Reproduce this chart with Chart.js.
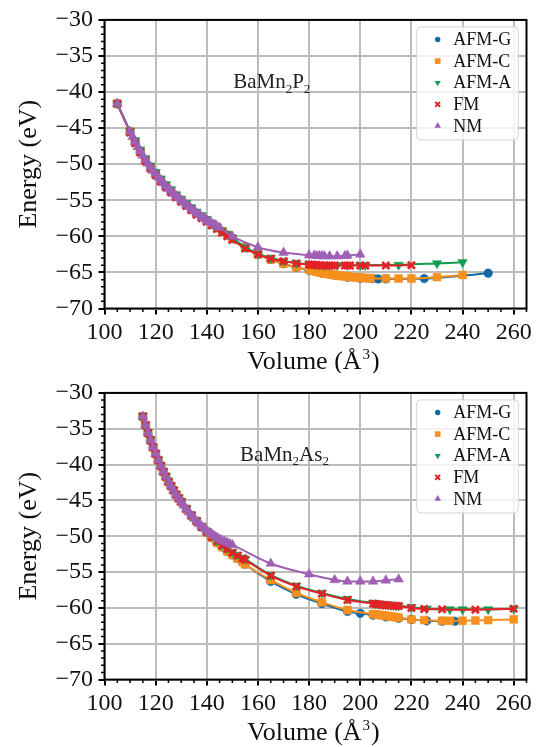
<!DOCTYPE html>
<html>
<head>
<meta charset="utf-8">
<script src="https://cdn.jsdelivr.net/npm/chart.js@4.4.0/dist/chart.umd.min.js"></script>
<style>
  body { margin: 0; background: #fff; }
  #wrap { position: relative; width: 540px; height: 747px; }
  canvas { position: absolute; left: 0; }
  #cTop { top: 0; }
  #cBot { top: 373px; }
</style>
</head>
<body>
<div id="wrap">
  <canvas id="cTop" width="540" height="373"></canvas>
  <canvas id="cBot" width="540" height="374"></canvas>
</div>
<script>
// ---- BaMn2P2 : volume (Å^3) / total energy (eV) per magnetic order ----
const steepP = [105,110,112,114,116,118,120,122,124,126,128,130,132,134,136,138,140,142,144,146,148,150];

const volP_G = steepP.concat([155,160,165,170,175,180,185,190,195,200,205,207,210,225,250]);
const enP_G = [-41.6,-45.5,-46.9,-48.2,-49.4,-50.4,-51.3,-52.2,-53.0,-53.7,-54.4,-55.0,-55.6,-56.2,-56.8,-57.3,-57.8,-58.3,-58.8,-59.3,-59.8,-60.3,
  -61.5,-62.5,-63.2,-63.8,-64.3,-64.7,-65.1,-65.4,-65.65,-65.8,-65.85,-65.9,-65.9,-65.85,-65.1];

const volP_C = steepP.concat([155,160,165,170,175,
  180,181,182,183,184,185,186,187,188,189,190,191,192,193,194,195,196,197,198,199,200,201,202,203,204,
  210,215,220,230,240]);
const enP_C = [-41.6,-45.5,-46.9,-48.2,-49.4,-50.4,-51.3,-52.2,-53.0,-53.7,-54.4,-55.0,-55.6,-56.2,-56.8,-57.3,-57.8,-58.3,-58.8,-59.3,-59.8,-60.3,
  -61.5,-62.5,-63.2,-63.8,-64.3,
  -64.6,-64.7,-64.8,-64.9,-64.97,-65.05,-65.12,-65.18,-65.25,-65.3,-65.36,-65.41,-65.46,-65.5,-65.54,-65.58,-65.62,-65.65,-65.68,-65.71,-65.74,-65.76,-65.78,-65.8,-65.82,
  -65.85,-65.85,-65.85,-65.65,-65.35];

const volP_A = steepP.concat([155,160,165,170,175,180,182,184,186,188,191,195,200,202,215,230,240]);
const enP_A = [-41.6,-45.4,-46.7,-48.0,-49.2,-50.2,-51.1,-52.0,-52.8,-53.5,-54.2,-54.8,-55.4,-56.0,-56.6,-57.1,-57.6,-58.2,-58.7,-59.2,-59.7,-60.2,
  -61.5,-62.4,-63.0,-63.4,-63.7,-63.85,-63.9,-63.95,-64.0,-64.0,-64.0,-64.0,-64.0,-64.0,-63.95,-63.75,-63.6];

const volP_F = steepP.concat([155,160,165,170,175,180,181,182,183,184,185,186,187,188,189,190,194,195,196,200,202,210,220]);
const enP_F = [-41.6,-45.6,-47.1,-48.4,-49.6,-50.6,-51.5,-52.4,-53.2,-53.9,-54.6,-55.2,-55.8,-56.4,-57.0,-57.5,-58.0,-58.5,-59.0,-59.5,-60.0,-60.5,
  -61.7,-62.5,-63.1,-63.45,-63.75,
  -63.9,-63.93,-63.96,-63.98,-64.0,-64.02,-64.03,-64.04,-64.05,-64.05,-64.05,
  -64.05,-64.05,-64.05,-64.05,-64.05,-64.05,-64.0];

const volP_N = [105,110,111,112,113,114,115,116,117,118,119,120,121,122,123,124,125,126,127,128,129,130,131,132,133,134,135,136,137,138,139,140,141,142,143,144,145,
  150,160,170,180,182,183,184,185,186,188,191,194,195,200];
const enP_N = [-41.6,-45.5,-46.2,-46.9,-47.6,-48.2,-48.8,-49.4,-49.9,-50.4,-50.9,-51.3,-51.8,-52.2,-52.6,-53.0,-53.4,-53.7,-54.1,-54.4,-54.7,-55.0,-55.3,-55.6,-55.9,-56.2,-56.5,-56.8,-57.0,-57.3,-57.5,-57.8,-58.0,-58.2,-58.4,-58.6,-58.8,
  -60.0,-61.5,-62.25,-62.6,-62.65,-62.7,-62.7,-62.7,-62.75,-62.75,-62.75,-62.7,-62.65,-62.5];

// ---- BaMn2As2 ----
const steepAs = [115,116,117,118,119,120,121,122,123,124,125,126,127,128,129,130,132,134,136,138,140,142,144,146,148,150,152,154,155];

const volAs_G = steepAs.concat([165,175,185,195,200,205,210,215,220,226,232,237]);
const enAs_G = [-33.3,-34.5,-35.6,-36.6,-37.6,-38.5,-39.4,-40.2,-41.0,-41.7,-42.4,-43.0,-43.6,-44.2,-44.7,-45.2,-46.2,-47.1,-47.9,-48.7,-49.5,-50.2,-50.9,-51.5,-52.1,-52.6,-53.1,-53.6,-53.9,
  -56.3,-58.1,-59.4,-60.5,-60.75,-61.0,-61.25,-61.45,-61.6,-61.8,-61.85,-61.85];

const volAs_C = steepAs.concat([165,175,185,195,205,206,207,208,209,210,211,212,213,214,215,220,225,232,235,240,245,250,260]);
const enAs_C = [-33.3,-34.5,-35.6,-36.6,-37.6,-38.5,-39.4,-40.2,-41.0,-41.7,-42.4,-43.0,-43.6,-44.2,-44.7,-45.2,-46.2,-47.1,-47.9,-48.7,-49.5,-50.2,-50.9,-51.5,-52.1,-52.6,-53.1,-53.6,-53.9,
  -56.1,-57.9,-59.2,-60.3,
  -60.85,-60.9,-60.95,-61.0,-61.05,-61.1,-61.15,-61.2,-61.25,-61.3,-61.35,
  -61.6,-61.7,-61.8,-61.8,-61.8,-61.75,-61.7,-61.6];

const volAs_A = steepAs.concat([165,175,185,195,205,206,207,208,209,210,211,212,213,214,215,220,226,235,240,250,260]);
const enAs_A = [-33.2,-34.4,-35.5,-36.5,-37.5,-38.4,-39.3,-40.1,-40.9,-41.6,-42.3,-42.9,-43.5,-44.1,-44.6,-45.1,-46.1,-47.0,-47.8,-48.6,-49.3,-50.0,-50.6,-51.2,-51.7,-52.2,-52.6,-53.0,-53.2,
  -55.4,-56.9,-57.9,-58.75,
  -59.3,-59.35,-59.4,-59.45,-59.5,-59.53,-59.56,-59.6,-59.63,-59.66,-59.7,
  -59.9,-60.1,-60.2,-60.2,-60.2,-60.1];

const volAs_F = steepAs.concat([165,175,185,195,205,206,207,208,209,210,211,212,213,214,215,220,225,232,245,260]);
const enAs_F = [-33.3,-34.5,-35.6,-36.6,-37.6,-38.5,-39.4,-40.2,-41.0,-41.7,-42.4,-43.0,-43.6,-44.2,-44.7,-45.2,-46.2,-47.1,-47.9,-48.7,-49.4,-50.1,-50.7,-51.3,-51.8,-52.3,-52.7,-53.1,-53.3,
  -55.5,-57.0,-58.0,-58.9,
  -59.4,-59.45,-59.5,-59.55,-59.6,-59.62,-59.65,-59.68,-59.7,-59.72,-59.75,
  -60.0,-60.15,-60.2,-60.25,-60.1];

const volAs_N = [115,116,117,118,119,120,121,122,123,124,125,126,127,128,129,130,131,132,133,134,135,136,137,138,139,140,141,142,143,144,145,146,147,148,149,150,
  165,180,190,195,200,205,210,215];
const enAs_N = [-33.3,-34.5,-35.6,-36.6,-37.6,-38.5,-39.4,-40.2,-41.0,-41.7,-42.4,-43.0,-43.6,-44.2,-44.7,-45.2,-45.7,-46.2,-46.65,-47.1,-47.5,-47.9,-48.3,-48.6,-48.9,-49.2,-49.45,-49.7,-49.95,-50.2,-50.4,-50.6,-50.75,-50.9,-51.05,-51.2,
  -53.8,-55.3,-56.1,-56.3,-56.3,-56.3,-56.15,-56.0];

const phaseLabels = ['AFM-G', 'AFM-C', 'AFM-A', 'FM', 'NM'];
const xTickMin = 100, xTickMax = 265, xStep = 20;
const yTickMin = -70, yTickMax = -30, yStep = 5;

// marker look of each phase
const styles = [
  { color: '#0f6aa6', shape: 'circle',   rot: 0,   r: 4.3, bw: 0.5, lr: 2.7 },
  { color: '#f7901e', shape: 'rect',     rot: 0,   r: 5.6, bw: 0.5, lr: 4.0 },
  { color: '#119c4f', shape: 'triangle', rot: 180, r: 5.4, bw: 0.5, lr: 3.6 },
  { color: '#e42127', shape: 'crossRot', rot: 0,   r: 5.0, bw: 2.6, lr: 3.4 },
  { color: '#9e5fb4', shape: 'triangle', rot: 0,   r: 5.6, bw: 0.5, lr: 3.8 }
];

const SERIF = "'Liberation Serif', 'DejaVu Serif', serif";
Chart.defaults.font.family = SERIF;
Chart.defaults.color = '#111';

function pairs(vol, en) {
  return vol.map((v, i) => ({ x: v, y: en[i] }));
}

function minus(v) {
  return String(v).replace('-', '\u2212');
}

// small legend markers, matplotlib style
function drawMarker(ctx, st, x, y, r) {
  ctx.save();
  ctx.fillStyle = st.color;
  ctx.strokeStyle = st.color;
  ctx.beginPath();
  if (st.shape === 'circle') {
    ctx.arc(x, y, r, 0, Math.PI * 2);
    ctx.fill();
  } else if (st.shape === 'rect') {
    const s = r * Math.SQRT1_2;
    ctx.fillRect(x - s, y - s, 2 * s, 2 * s);
  } else if (st.shape === 'triangle') {
    const d = st.rot ? -1 : 1;
    ctx.moveTo(x, y - d * r);
    ctx.lineTo(x + r * 0.866, y + d * r * 0.5);
    ctx.lineTo(x - r * 0.866, y + d * r * 0.5);
    ctx.closePath();
    ctx.fill();
  } else {
    const s = r * Math.SQRT1_2;
    ctx.lineWidth = 2;
    ctx.moveTo(x - s, y - s); ctx.lineTo(x + s, y + s);
    ctx.moveTo(x + s, y - s); ctx.lineTo(x - s, y + s);
    ctx.stroke();
  }
  ctx.restore();
}

const framePlugin = {
  id: 'frame',
  afterDatasetsDraw(chart) {
    const { ctx, chartArea: a, scales: { x, y } } = chart;
    ctx.save();
    ctx.strokeStyle = '#000';
    ctx.lineWidth = 1.5;
    ctx.beginPath();
    for (let v = yTickMin; v <= yTickMax; v += 1) {
      if (v % yStep !== 0) {
        const py = y.getPixelForValue(v);
        ctx.moveTo(a.left - 3.5, py);
        ctx.lineTo(a.left, py);
      }
    }
    for (let v = xTickMin; v <= xTickMax; v += 5) {
      if (v % xStep !== 0) {
        const px = x.getPixelForValue(v);
        ctx.moveTo(px, a.bottom);
        ctx.lineTo(px, a.bottom + 3.5);
      }
    }
    ctx.stroke();
    ctx.lineWidth = 2;
    ctx.strokeRect(a.left, a.top, a.right - a.left, a.bottom - a.top);
    ctx.restore();
  },
  afterDraw(chart) {
    const { ctx, chartArea: a, scales: { x, y } } = chart;
    const o = chart.options.plugins.frame;
    ctx.save();

    // legend box
    const lx = a.right - 109.8, ly = a.top + 7, lw = 101.6, lh = 113;
    ctx.beginPath();
    ctx.roundRect(lx, ly, lw, lh, 4);
    ctx.fillStyle = 'rgba(255,255,255,0.8)';
    ctx.fill();
    ctx.strokeStyle = '#d4d4d4';
    ctx.lineWidth = 1;
    ctx.stroke();
    ctx.font = '18px ' + SERIF;
    ctx.textBaseline = 'middle';
    ctx.textAlign = 'left';
    phaseLabels.forEach((lab, i) => {
      const ry = ly + 12.6 + i * 21.6;
      drawMarker(ctx, styles[i], lx + 21, ry, styles[i].lr);
      ctx.fillStyle = '#111';
      ctx.fillText(lab, lx + 36.6, ry + 1);
    });

    // compound name with subscripts
    let tx = x.getPixelForValue(o.nameAt[0]);
    const ty = y.getPixelForValue(o.nameAt[1]);
    ctx.textBaseline = 'alphabetic';
    ctx.fillStyle = '#222';
    o.name.forEach(part => {
      ctx.font = (part[1] ? '13px ' : '21px ') + SERIF;
      ctx.fillText(part[0], tx, ty + (part[1] ? 4.5 : 0));
      tx += ctx.measureText(part[0]).width;
    });

    // axis titles
    ctx.fillStyle = '#111';
    ctx.font = '26px ' + SERIF;
    ctx.save();
    ctx.translate(29, (a.top + a.bottom) / 2);
    ctx.rotate(-Math.PI / 2);
    ctx.textAlign = 'center';
    ctx.textBaseline = 'middle';
    ctx.fillText('Energy (eV)', 0, 0);
    ctx.restore();

    const p1 = 'Volume (\u00c5', p2 = '3', p3 = ')';
    ctx.font = '26px ' + SERIF;
    const w1 = ctx.measureText(p1).width, w3 = ctx.measureText(p3).width;
    ctx.font = '15px ' + SERIF;
    const w2 = ctx.measureText(p2).width;
    let vx = (a.left + a.right) / 2 - 3 - (w1 + w2 + w3) / 2;
    const vy = a.bottom + 60;
    ctx.textAlign = 'left';
    ctx.textBaseline = 'alphabetic';
    ctx.font = '26px ' + SERIF;
    ctx.fillText(p1, vx, vy);
    vx += w1 + 1;
    ctx.font = '15px ' + SERIF;
    ctx.fillText(p2, vx, vy - 10);
    vx += w2 + 1;
    ctx.font = '26px ' + SERIF;
    ctx.fillText(p3, vx, vy);
    ctx.restore();
  }
};

function makePanel(id, series, name, nameAt, padTop, xHeight) {
  const datasets = series.map((s, i) => ({
    label: phaseLabels[i],
    data: pairs(s[0], s[1]),
    borderColor: styles[i].color,
    backgroundColor: styles[i].color,
    borderWidth: 2,
    pointStyle: styles[i].shape,
    pointRotation: styles[i].rot,
    pointRadius: styles[i].r,
    pointBorderWidth: styles[i].bw,
    cubicInterpolationMode: 'monotone',
    order: 5 - i
  }));

  return new Chart(document.getElementById(id), {
    type: 'line',
    data: { datasets },
    options: {
      responsive: false,
      animation: false,
      devicePixelRatio: 1,
      layout: { padding: { top: padTop, right: 13.5, left: 0, bottom: 0 } },
      plugins: {
        legend: { display: false },
        tooltip: { enabled: false },
        frame: { name, nameAt }
      },
      scales: {
        x: {
          type: 'linear',
          min: xTickMin,
          max: xTickMax,
          border: { display: false },
          grid: { color: '#bdbdbd', lineWidth: 2, tickColor: '#000', tickWidth: 2, tickLength: 6 },
          ticks: { stepSize: xStep, includeBounds: false, autoSkip: false, maxRotation: 0,
                   padding: 4, font: { size: 24 }, color: '#111' },
          afterFit(scale) { scale.height = xHeight; }
        },
        y: {
          type: 'linear',
          min: yTickMin,
          max: yTickMax,
          border: { display: false },
          grid: { color: '#bdbdbd', lineWidth: 2, tickColor: '#000', tickWidth: 2, tickLength: 6 },
          ticks: { stepSize: yStep, padding: 5.5, font: { size: 24 }, color: '#111',
                   callback: v => minus(v) },
          afterFit(scale) { scale.width = 104.5; }
        }
      }
    },
    plugins: [framePlugin]
  });
}

makePanel('cTop',
  [[volP_G, enP_G], [volP_C, enP_C], [volP_A, enP_A], [volP_F, enP_F], [volP_N, enP_N]],
  [['BaMn', false], ['2', true], ['P', false], ['2', true]], [150.3, -39.5], 15, 64.5);

makePanel('cBot',
  [[volAs_G, enAs_G], [volAs_C, enAs_C], [volAs_A, enAs_A], [volAs_F, enAs_F], [volAs_N, enAs_N]],
  [['BaMn', false], ['2', true], ['As', false], ['2', true]], [153, -39.5], 13, 67.4);
</script>
</body>
</html>
